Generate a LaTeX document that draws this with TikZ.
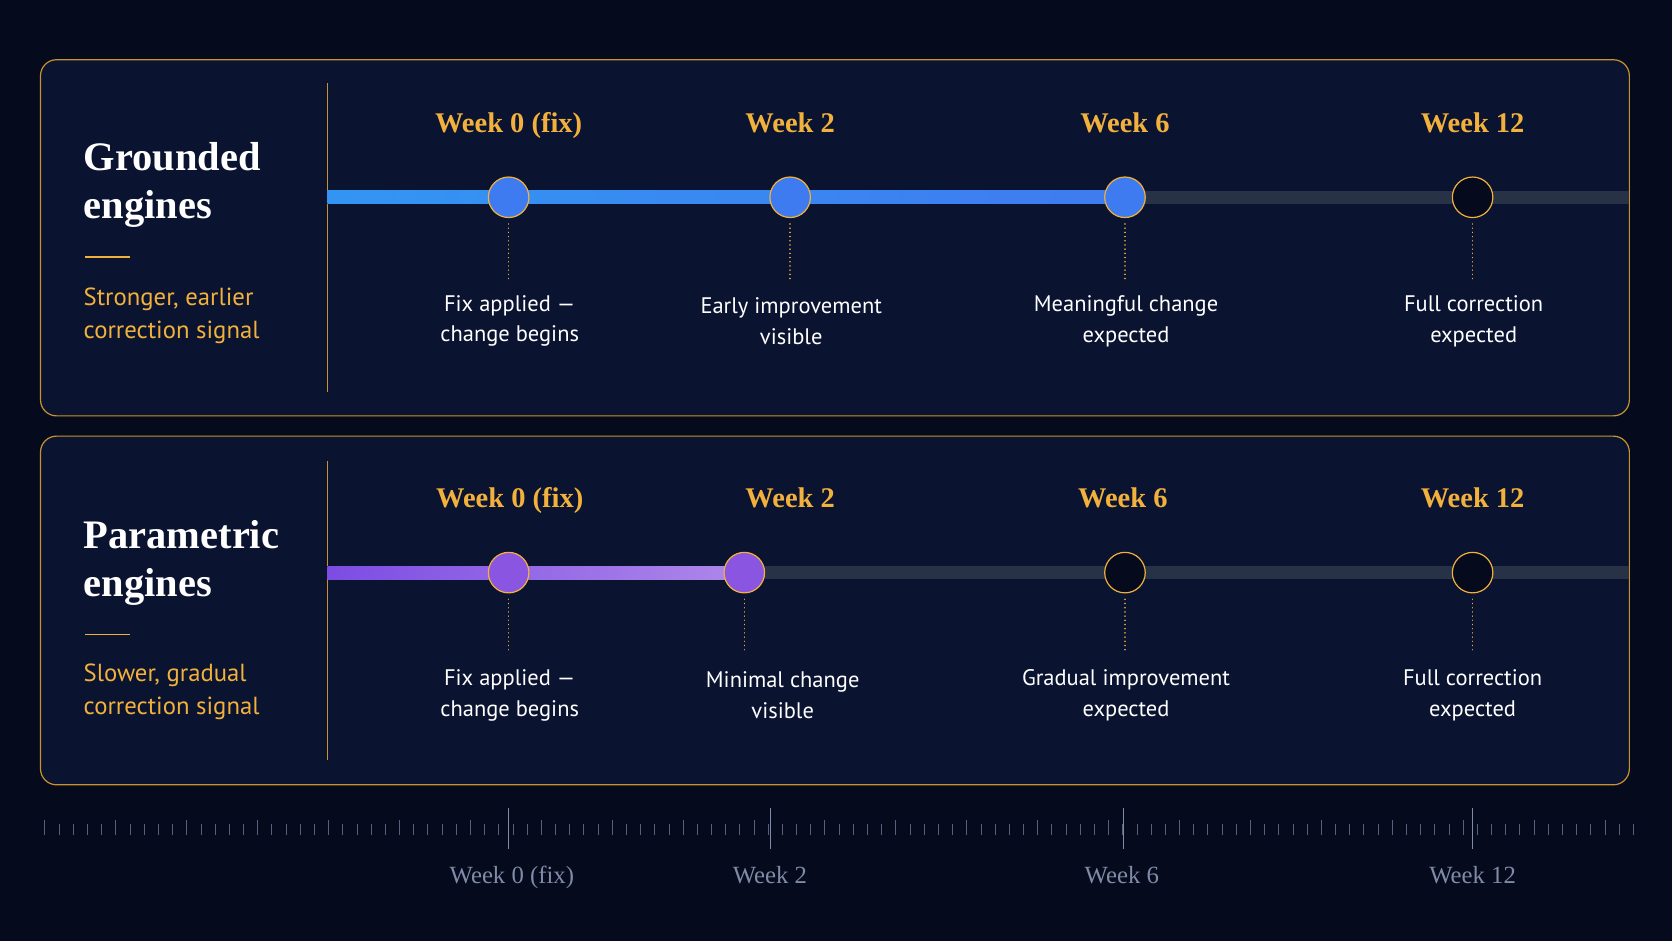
\documentclass[tikz,border=0pt]{standalone}
\usepackage{fontspec}
\setmainfont{Liberation Serif}
\setsansfont{PT Sans}
\begin{document}
\definecolor{bg}{HTML}{050A1C}
\definecolor{panel}{HTML}{0A1330}
\definecolor{gold}{HTML}{C8922E}
\definecolor{wk}{HTML}{F2B13C}
\definecolor{trk}{HTML}{283247}
\definecolor{blu}{HTML}{3F7BF0}
\definecolor{pur}{HTML}{8A55E0}
\definecolor{axc}{HTML}{55627E}
\definecolor{axt}{HTML}{7F8BA8}
\begin{tikzpicture}[x=0.05cm,y=-0.05cm,
  panelbox/.style={draw=gold,line width=1.6pt,fill=panel,rounded corners=0.75cm},
  title/.style={anchor=west,text=white,font=\fontsize{54}{64}\selectfont\bfseries,align=left},
  sub/.style={anchor=west,text=wk,font=\sffamily\fontsize{33}{44}\selectfont,align=left},
  week/.style={anchor=base,text=wk,font=\fontsize{38}{40}\selectfont\bfseries},
  desc/.style={text=white,font=\sffamily\fontsize{30}{41}\selectfont,align=center},
  dot/.style={circle,minimum size=1.9cm,inner sep=0pt,draw=wk,line width=1.6pt},
  dline/.style={draw=wk,line width=2pt,line cap=round,dash pattern=on 0.1pt off 5.5pt},
  axl/.style={anchor=base,text=axt,font=\fontsize{33}{35}\selectfont}]
\fill[bg] (0,0) rectangle (1568,882);
\useasboundingbox (0,0) rectangle (1568,882);
% panels
\draw[panelbox] (38,56) rectangle (1528,390);
\draw[panelbox] (38,409) rectangle (1528,736);
\draw[gold,line width=1.4pt] (307,78) -- (307,368);
\draw[gold,line width=1.4pt] (307,432) -- (307,713);
% titles
\node[title] (t1) at (76,173) {Grounded\\engines};
\draw[wk,line width=2.5pt] (80,241) -- (122,241);
\node[sub] (s1) at (76,296) {Stronger, earlier\\correction signal};
\node[title] (t2) at (76,528) {Parametric\\engines};
\draw[wk,line width=2.5pt] (80,595) -- (122,595);
\node[sub] (s2) at (76,649) {Slower, gradual\\correction signal};
% tracks
\fill[trk] (307,179) rectangle (1528,191);
\fill[left color=blu!80!cyan,right color=blu] (307,179) rectangle (1055,191);
\fill[trk] (307,531) rectangle (1528,543);
\fill[left color=pur!90!blue,right color=pur!70!white] (307,531) rectangle (698,543);
% row 1
\foreach \x/\n/\f/\d [count=\i] in {477/Week 0 (fix)/blu/Fix applied —\\change begins,741/Week 2/blu/Early improvement\\visible,1055/Week 6/blu/Meaningful change\\expected,1381/Week 12/bg/Full correction\\expected}{
  \node[week] (wa\i) at (\x,124) {\n};
  \draw[dline] (\x,210) -- (\x,262);
  \node[dot,fill=\f] (na\i) at (\x,185) {};
  \node[desc] (da\i) at (\x+1,301) {\d};
}
% row 2
\foreach \x/\lx/\n/\f/\d/\dx [count=\i] in {477/478/Week 0 (fix)/pur/Fix applied —\\change begins/478,698/741/Week 2/pur/Minimal change\\visible/734,1055/1053/Week 6/bg/Gradual improvement\\expected/1056,1381/1381/Week 12/bg/Full correction\\expected/1381}{
  \node[week] (wb\i) at (\lx,476) {\n};
  \draw[dline] (\x,562) -- (\x,612);
  \node[dot,fill=\f] (nb\i) at (\x,537) {};
  \node[desc] (db\i) at (\dx,652) {\d};
}
% axis ticks
\foreach \k in {0,...,112}{
  \pgfmathsetmacro\xx{42+\k*13.3}
  \pgfmathtruncatemacro\m{mod(\k,5)}
  \ifnum\m=0
    \draw[axc,line width=0.9pt] (\xx,769) -- (\xx,783);
  \else
    \draw[axc,line width=0.7pt] (\xx,773) -- (\xx,783);
  \fi
}
\foreach \x/\l/\lx [count=\i] in {477/Week 0 (fix)/480,723/Week 2/722,1054/Week 6/1052,1381/Week 12/1381}{
  \draw[axt,line width=1.4pt] (\x,758) -- (\x,796);
  \node[axl] (ax\i) at (\lx,829) {\l};
}
\end{tikzpicture}
\end{document}
